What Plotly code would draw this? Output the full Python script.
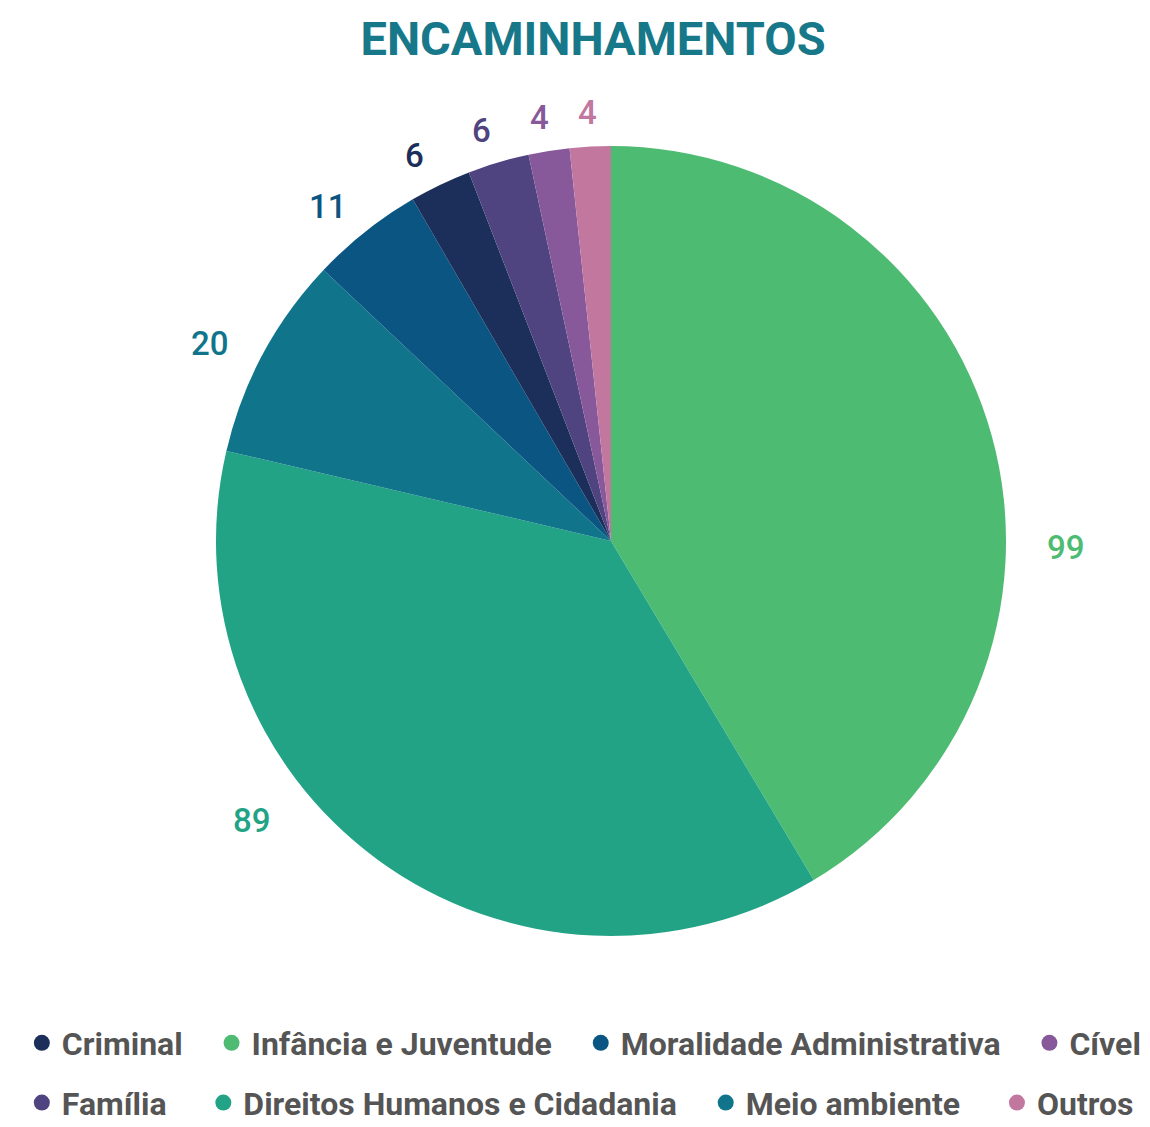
import math
import plotly.graph_objects as go

# Slices, clockwise from 12 o'clock
categories = ["Infância e Juventude", "Direitos Humanos e Cidadania", "Meio ambiente",
              "Moralidade Administrativa", "Criminal", "Família", "Cível", "Outros"]
values = [99, 89, 20, 11, 6, 6, 4, 4]
colors = ["#4dbb72", "#22a386", "#10758a", "#0b5583", "#1b2f5a", "#4f4480", "#87599a", "#c2779f"]

# Legend layout: two rows
legend_row1 = ["Criminal", "Infância e Juventude", "Moralidade Administrativa", "Cível"]
legend_row2 = ["Família", "Direitos Humanos e Cidadania", "Meio ambiente", "Outros"]

color_of = dict(zip(categories, colors))

W, H = 1150, 1127
pie_x = [0.1878, 0.8748]
pie_y = [0.1695, 0.8705]

fig = go.Figure()
fig.add_trace(go.Pie(
    labels=categories,
    values=values,
    sort=False,
    direction="clockwise",
    rotation=0,
    marker=dict(colors=colors, line=dict(width=0)),
    textinfo="none",
    showlegend=False,
    hoverinfo="label+value",
    domain=dict(x=pie_x, y=pie_y),
))

# Value labels outside the rim, along each slice's mid-angle
cx = (pie_x[0] + pie_x[1]) / 2 * W
cy = (1 - (pie_y[0] + pie_y[1]) / 2) * H
radius = min((pie_x[1] - pie_x[0]) * W, (pie_y[1] - pie_y[0]) * H) / 2
label_rx = radius + 60
label_ry = radius + 44
label_dy = 10
# extra angular shift (degrees) for the two wide slices, whose labels sit lower
angle_shift = {"Infância e Juventude": 15, "Direitos Humanos e Cidadania": 16}
total = sum(values)
acc = 0
for name, v, c in zip(categories, values, colors):
    mid = (acc + v / 2) / total * 360 + angle_shift.get(name, 0)
    acc += v
    t = math.radians(mid)
    px = cx + label_rx * math.sin(t)
    py = cy - label_ry * math.cos(t) + label_dy
    fig.add_annotation(
        x=px / W, y=1 - py / H, xref="paper", yref="paper",
        text=str(v), showarrow=False, xanchor="center", yanchor="middle",
        font=dict(family="Roboto", size=33, color=c, weight=500),
    )

# trailing spacing after each legend entry
pad_row1 = [3, 3, 3, 0]
pad_row2 = [4, 3, 4, 0]
for row, pads, legend_id in ((legend_row1, pad_row1, "legend"), (legend_row2, pad_row2, "legend2")):
    for name, p in zip(row, pads):
        fig.add_trace(go.Scatter(
            x=[None], y=[None], mode="markers", name=name + "\u00a0" * p,
            marker=dict(symbol="circle", size=30, color=color_of[name]),
            legend=legend_id, showlegend=True,
        ))

legend_font = dict(family="Roboto", size=32, color="#555555", weight="bold")
fig.update_layout(
    width=W, height=H,
    margin=dict(l=0, r=0, t=0, b=0, autoexpand=False),
    paper_bgcolor="white", plot_bgcolor="white",
    title=dict(text="ENCAMINHAMENTOS", x=0.5157, xanchor="center", y=0.966, yanchor="middle",
               font=dict(family="Roboto", size=47, color="#17788a", weight="bold")),
    xaxis=dict(visible=False), yaxis=dict(visible=False),
    legend=dict(orientation="h", x=0.019, xanchor="left", y=0.0745, yanchor="middle",
                font=legend_font, bgcolor="rgba(0,0,0,0)"),
    legend2=dict(orientation="h", x=0.019, xanchor="left", y=0.0215, yanchor="middle",
                 font=legend_font, bgcolor="rgba(0,0,0,0)"),
)

fig.write_html("out.html")
